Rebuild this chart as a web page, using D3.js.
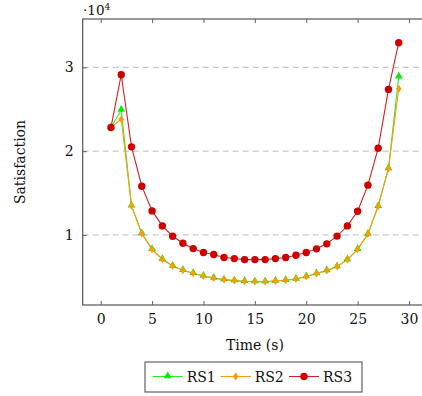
<!DOCTYPE html>
<html>
<head>
<meta charset="utf-8">
<script src="https://cdn.jsdelivr.net/npm/d3@7"></script>
<style>
  body { margin: 0; background: #fff; }
  svg text { font-family: "DejaVu Serif", serif; fill: #111; }
</style>
</head>
<body>
<div id="chart"></div>
<script>
// time steps (s)
const times = d3.range(1, 30);
// satisfaction values
const rs1 = [22830, 24900, 13470, 10170, 8290, 7100, 6300, 5780, 5420, 5100, 4860, 4670, 4550, 4470, 4430,
             4430, 4500, 4590, 4740, 5030, 5390, 5750, 6220, 7060, 8290, 10120, 13430, 17930, 28880];
const rs2 = [22830, 23820, 13470, 10170, 8290, 7100, 6300, 5780, 5420, 5100, 4860, 4670, 4550, 4470, 4430,
             4430, 4500, 4590, 4740, 5030, 5390, 5750, 6220, 7060, 8290, 10120, 13430, 17930, 27440];
const rs3 = [22830, 29120, 20510, 15820, 12870, 11080, 9850, 9010, 8370, 7900, 7660, 7300, 7180, 7060, 7060,
             7060, 7180, 7300, 7570, 7900, 8340, 8940, 9860, 11080, 12830, 15940, 20360, 27370, 32940];
const xTicks = [0, 5, 10, 15, 20, 25, 30];
const yTicks = [1, 2, 3];
const seriesNames = ["RS1", "RS2", "RS3"];

const W = 422, H = 396;
const svg = d3.select("#chart").append("svg").attr("width", W).attr("height", H);

const x = d3.scaleLinear().domain([-1.75, 31.75]).range([82.7, 427]);
const y = d3.scaleLinear().domain([0.164, 3.577]).range([305, 19]);

// grid
svg.append("g").selectAll("line").data(yTicks).enter().append("line")
  .attr("x1", x.range()[0]).attr("x2", x.range()[1])
  .attr("y1", d => y(d)).attr("y2", d => y(d))
  .attr("stroke", "#bbb").attr("stroke-width", 1).attr("stroke-dasharray", "6,4");

// frame
const frame = svg.append("g").attr("stroke", "#555").attr("stroke-width", 1.2).attr("fill", "none");
frame.append("rect").attr("x", x.range()[0]).attr("y", y.range()[1])
  .attr("width", x.range()[1] - x.range()[0]).attr("height", y.range()[0] - y.range()[1]);

// axes
const xAxis = svg.append("g").attr("transform", `translate(0,${y.range()[0]})`)
  .call(d3.axisBottom(x).tickValues(xTicks).tickSizeInner(-4).tickSizeOuter(0).tickPadding(9));
const xAxisTop = svg.append("g").attr("transform", `translate(0,${y.range()[1]})`)
  .call(d3.axisTop(x).tickValues(xTicks).tickSizeInner(-4).tickSizeOuter(0).tickFormat(""));
const yAxis = svg.append("g").attr("transform", `translate(${x.range()[0]},0)`)
  .call(d3.axisLeft(y).tickValues(yTicks).tickSizeInner(-4).tickSizeOuter(0).tickPadding(9).tickFormat(d3.format("d")));
[xAxis, xAxisTop, yAxis].forEach(g => {
  g.attr("font-family", null);
  g.select(".domain").remove();
  g.selectAll("line").attr("stroke", "#666");
  g.selectAll("text").attr("font-size", 14).attr("fill", "#111");
});

// multiplier
const mult = svg.append("text").attr("x", 83).attr("y", 15).attr("font-size", 13.5);
mult.append("tspan").text("·10");
mult.append("tspan").attr("font-size", 9).attr("dy", -5).text("4");

// axis labels
svg.append("text").attr("x", 255).attr("y", 350).attr("text-anchor", "middle")
  .attr("font-size", 14).text("Time (s)");
svg.append("text").attr("transform", "translate(25,162) rotate(-90)").attr("text-anchor", "middle")
  .attr("font-size", 14).text("Satisfaction");

const line = d3.line().x((d, i) => x(times[i])).y(d => y(d / 1e4));
const colors = ["#00ee00", "#ff9910", "#cc0000"];
const lineColors = ["#22ee22", "#ff9910", "#d42020"];
const all = [rs1, rs2, rs3];

const plot = svg.append("g");
all.forEach((vals, k) => {
  plot.append("path").datum(vals).attr("d", line)
    .attr("fill", "none").attr("stroke", lineColors[k]).attr("stroke-width", 1.1);
});

function marker(g, k, cx, cy) {
  if (k === 0) {
    g.append("path").attr("d", d3.symbol().type(d3.symbolTriangle).size(26)())
      .attr("transform", `translate(${cx},${cy - 0.5})`).attr("fill", colors[0]);
  } else if (k === 1) {
    g.append("path").attr("d", "M0,-4L2.8,0L0,4L-2.8,0Z")
      .attr("transform", `translate(${cx},${cy})`).attr("fill", colors[1]);
  } else {
    g.append("circle").attr("cx", cx).attr("cy", cy).attr("r", 3.7).attr("fill", colors[2]);
  }
}
all.forEach((vals, k) => {
  const g = plot.append("g");
  vals.forEach((v, i) => marker(g, k, x(times[i]), y(v / 1e4)));
});

// legend
const lg = svg.append("g");
lg.append("rect").attr("x", 145).attr("y", 362).attr("width", 217).attr("height", 30)
  .attr("fill", "#fff").attr("stroke", "#555").attr("stroke-width", 1.1);
const legendX = [152.7, 220.7, 289];
seriesNames.forEach((name, k) => {
  const lx = legendX[k], ly = 376.5;
  lg.append("line").attr("x1", lx).attr("x2", lx + 30).attr("y1", ly).attr("y2", ly)
    .attr("stroke", lineColors[k]).attr("stroke-width", 1.1);
  marker(lg, k, lx + 15, ly);
  lg.append("text").attr("x", lx + 34).attr("y", ly + 5.5).attr("font-size", 14).text(name);
});
</script>
</body>
</html>
